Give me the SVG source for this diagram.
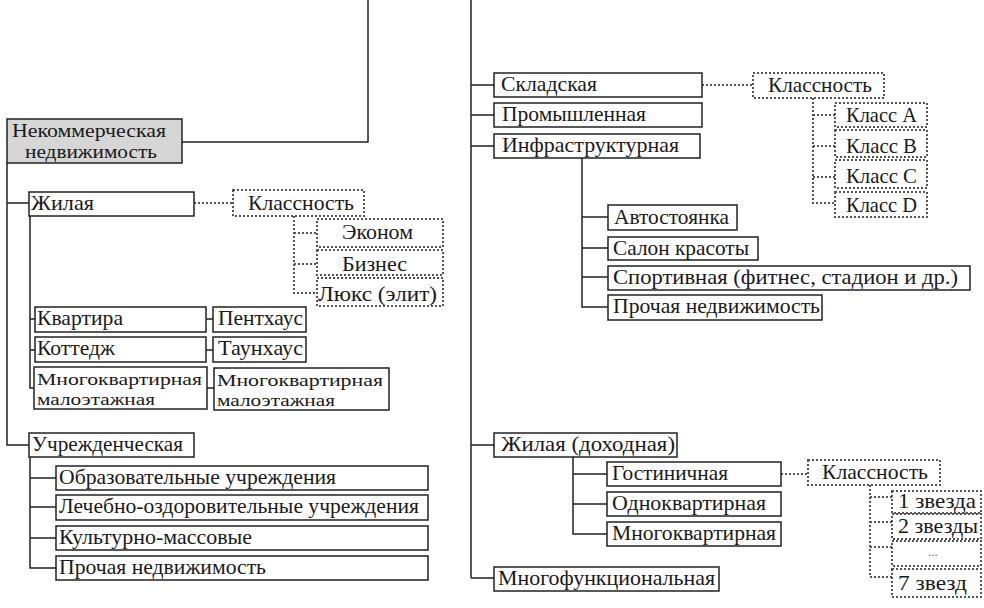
<svg xmlns="http://www.w3.org/2000/svg" width="984" height="608" viewBox="0 0 984 608">
<style>
text{font-family:"Liberation Serif","Times New Roman",serif;font-size:21px;fill:#1a1a1a}
.t2{font-size:18px}
.t3{font-size:17px}
.b{fill:#fff;stroke:#222;stroke-width:1.5}
.g{fill:#d6d6d6;stroke:#222;stroke-width:1.5}
.d{fill:#fff;stroke:#555;stroke-width:2;stroke-dasharray:2 2}
.l{fill:none;stroke:#222;stroke-width:1.5}
.dl{fill:none;stroke:#555;stroke-width:2;stroke-dasharray:2 2}
.m{text-anchor:middle}
</style>
<rect width="984" height="608" fill="#fff"/>
<g id="connectors">
<path class="l" d="M368 0V142H182"/>
<path class="l" d="M471 0V578"/>
<path class="l" d="M7 163V445H29M7 203H29"/>
<path class="l" d="M30 216V388H34M30 319H35M30 350H35"/>
<path class="l" d="M206 319H213M206 350H213M207 388H214"/>
<path class="l" d="M30 457V568H56M30 478H56M30 507H56M30 538H56"/>
<path class="l" d="M471 85H494M471 115H494M471 146H494M471 445H494M471 578H494"/>
<path class="l" d="M582 158V307H608M582 217H608M582 248H608M582 277H608"/>
<path class="l" d="M573 457V534H607M573 474H607M573 504H607"/>
<path class="dl" d="M194 203H233M294 216V293H317M294 233H317M294 264H317"/>
<path class="dl" d="M702 85H753M813 98V203H835M813 115H835M813 146H835M813 177H835"/>
<path class="dl" d="M781 474H808M870 485V577H892M870 497H892M870 522H892M870 547H892"/>
</g>
<g id="n-nonkom"><rect class="g" x="7" y="119" width="175" height="44"/><text class="t2" x="12" y="137" textLength="154" lengthAdjust="spacingAndGlyphs">Некоммерческая</text><text class="t2" x="25" y="158" textLength="132" lengthAdjust="spacingAndGlyphs">недвижимость</text></g>
<g id="n-zhilaya"><rect class="b" x="29" y="192" width="165" height="24"/><text x="31" y="210" textLength="63" lengthAdjust="spacingAndGlyphs">Жилая</text></g>
<g id="n-klass1"><rect class="d" x="233" y="190" width="131" height="26"/><text x="248" y="210" textLength="106" lengthAdjust="spacingAndGlyphs">Классность</text></g>
<g id="n-ekonom"><rect class="d" x="317" y="219" width="126" height="28"/><text x="342" y="239" textLength="71" lengthAdjust="spacingAndGlyphs">Эконом</text></g>
<g id="n-biznes"><rect class="d" x="317" y="250" width="126" height="25"/><text x="342" y="271" textLength="65" lengthAdjust="spacingAndGlyphs">Бизнес</text></g>
<g id="n-lyuks"><rect class="d" x="317" y="278" width="126" height="28"/><text x="318" y="301" textLength="119" lengthAdjust="spacingAndGlyphs">Люкс (элит)</text></g>
<g id="n-kvartira"><rect class="b" x="35" y="307" width="171" height="25"/><text x="37" y="325" textLength="86" lengthAdjust="spacingAndGlyphs">Квартира</text></g>
<g id="n-kottedzh"><rect class="b" x="35" y="337" width="171" height="25"/><text x="37" y="355" textLength="78" lengthAdjust="spacingAndGlyphs">Коттедж</text></g>
<g id="n-mkm1"><rect class="b" x="34" y="367" width="173" height="42"/><text class="t3" x="37" y="385" textLength="165" lengthAdjust="spacingAndGlyphs">Многоквартирная</text><text class="t3" x="37" y="405" textLength="118" lengthAdjust="spacingAndGlyphs">малоэтажная</text></g>
<g id="n-penthaus"><rect class="b" x="213" y="307" width="93" height="25"/><text x="218" y="325" textLength="85" lengthAdjust="spacingAndGlyphs">Пентхаус</text></g>
<g id="n-taunhaus"><rect class="b" x="213" y="337" width="93" height="25"/><text x="218" y="355" textLength="85" lengthAdjust="spacingAndGlyphs">Таунхаус</text></g>
<g id="n-mkm2"><rect class="b" x="214" y="368" width="175" height="42"/><text class="t3" x="217" y="386" textLength="166" lengthAdjust="spacingAndGlyphs">Многоквартирная</text><text class="t3" x="217" y="406" textLength="118" lengthAdjust="spacingAndGlyphs">малоэтажная</text></g>
<g id="n-uchrezh"><rect class="b" x="29" y="433" width="165" height="24"/><text x="32" y="451" textLength="151" lengthAdjust="spacingAndGlyphs">Учрежденческая</text></g>
<g id="n-obraz"><rect class="b" x="56" y="466" width="372" height="24"/><text x="59" y="484" textLength="277" lengthAdjust="spacingAndGlyphs">Образовательные учреждения</text></g>
<g id="n-lech"><rect class="b" x="56" y="495" width="372" height="25"/><text x="59" y="513" textLength="360" lengthAdjust="spacingAndGlyphs">Лечебно-оздоровительные учреждения</text></g>
<g id="n-kult"><rect class="b" x="56" y="526" width="372" height="24"/><text x="59" y="544" textLength="193" lengthAdjust="spacingAndGlyphs">Культурно-массовые</text></g>
<g id="n-proch1"><rect class="b" x="56" y="556" width="372" height="24"/><text x="59" y="574" textLength="207" lengthAdjust="spacingAndGlyphs">Прочая недвижимость</text></g>
<g id="n-sklad"><rect class="b" x="494" y="73" width="208" height="24"/><text x="501" y="91" textLength="96" lengthAdjust="spacingAndGlyphs">Складская</text></g>
<g id="n-prom"><rect class="b" x="494" y="103" width="208" height="24"/><text x="502" y="121" textLength="144" lengthAdjust="spacingAndGlyphs">Промышленная</text></g>
<g id="n-infra"><rect class="b" x="494" y="134" width="206" height="24"/><text x="502" y="152" textLength="177" lengthAdjust="spacingAndGlyphs">Инфраструктурная</text></g>
<g id="n-klass2"><rect class="d" x="753" y="73" width="131" height="25"/><text x="768" y="92" textLength="104" lengthAdjust="spacingAndGlyphs">Классность</text></g>
<g id="n-ka"><rect class="d" x="835" y="103" width="92" height="24"/><text x="846" y="122" textLength="71" lengthAdjust="spacingAndGlyphs">Класс A</text></g>
<g id="n-kb"><rect class="d" x="835" y="130" width="92" height="27"/><text x="846" y="153" textLength="71" lengthAdjust="spacingAndGlyphs">Класс B</text></g>
<g id="n-kc"><rect class="d" x="835" y="160" width="92" height="28"/><text x="846" y="183" textLength="71" lengthAdjust="spacingAndGlyphs">Класс C</text></g>
<g id="n-kd"><rect class="d" x="835" y="192" width="92" height="25"/><text x="846" y="212" textLength="71" lengthAdjust="spacingAndGlyphs">Класс D</text></g>
<g id="n-avto"><rect class="b" x="608" y="205" width="129" height="25"/><text x="614" y="224" textLength="115" lengthAdjust="spacingAndGlyphs">Автостоянка</text></g>
<g id="n-salon"><rect class="b" x="608" y="237" width="150" height="23"/><text x="613" y="255" textLength="136" lengthAdjust="spacingAndGlyphs">Салон красоты</text></g>
<g id="n-sport"><rect class="b" x="608" y="266" width="362" height="24"/><text x="613" y="284" textLength="345" lengthAdjust="spacingAndGlyphs">Спортивная (фитнес, стадион и др.)</text></g>
<g id="n-proch2"><rect class="b" x="608" y="295" width="214" height="25"/><text x="613" y="313" textLength="207" lengthAdjust="spacingAndGlyphs">Прочая недвижимость</text></g>
<g id="n-zhdoh"><rect class="b" x="494" y="433" width="183" height="24"/><text x="501" y="451" textLength="174" lengthAdjust="spacingAndGlyphs">Жилая (доходная)</text></g>
<g id="n-gost"><rect class="b" x="607" y="462" width="174" height="24"/><text x="612" y="480" textLength="116" lengthAdjust="spacingAndGlyphs">Гостиничная</text></g>
<g id="n-odno"><rect class="b" x="607" y="492" width="174" height="24"/><text x="612" y="510" textLength="154" lengthAdjust="spacingAndGlyphs">Одноквартирная</text></g>
<g id="n-mnogo"><rect class="b" x="607" y="522" width="174" height="24"/><text x="612" y="540" textLength="164" lengthAdjust="spacingAndGlyphs">Многоквартирная</text></g>
<g id="n-mfunk"><rect class="b" x="494" y="567" width="225" height="24"/><text x="498" y="585" textLength="217" lengthAdjust="spacingAndGlyphs">Многофункциональная</text></g>
<g id="n-klass3"><rect class="d" x="808" y="460" width="132" height="25"/><text x="822" y="479" textLength="106" lengthAdjust="spacingAndGlyphs">Классность</text></g>
<g id="n-s1"><rect class="d" x="892" y="491" width="89" height="22"/><text x="898" y="508" textLength="78" lengthAdjust="spacingAndGlyphs">1 звезда</text></g>
<g id="n-s2"><rect class="d" x="892" y="514" width="89" height="25"/><text x="898" y="533" textLength="80" lengthAdjust="spacingAndGlyphs">2 звезды</text></g>
<g id="n-s3"><rect class="d" x="892" y="541" width="89" height="25"/><text class="m" x="933" y="556" style="font-size:12px;fill:#666">...</text></g>
<g id="n-s7"><rect class="d" x="892" y="569" width="89" height="28"/><text x="898" y="590" textLength="69" lengthAdjust="spacingAndGlyphs">7 звезд</text></g>
</svg>
